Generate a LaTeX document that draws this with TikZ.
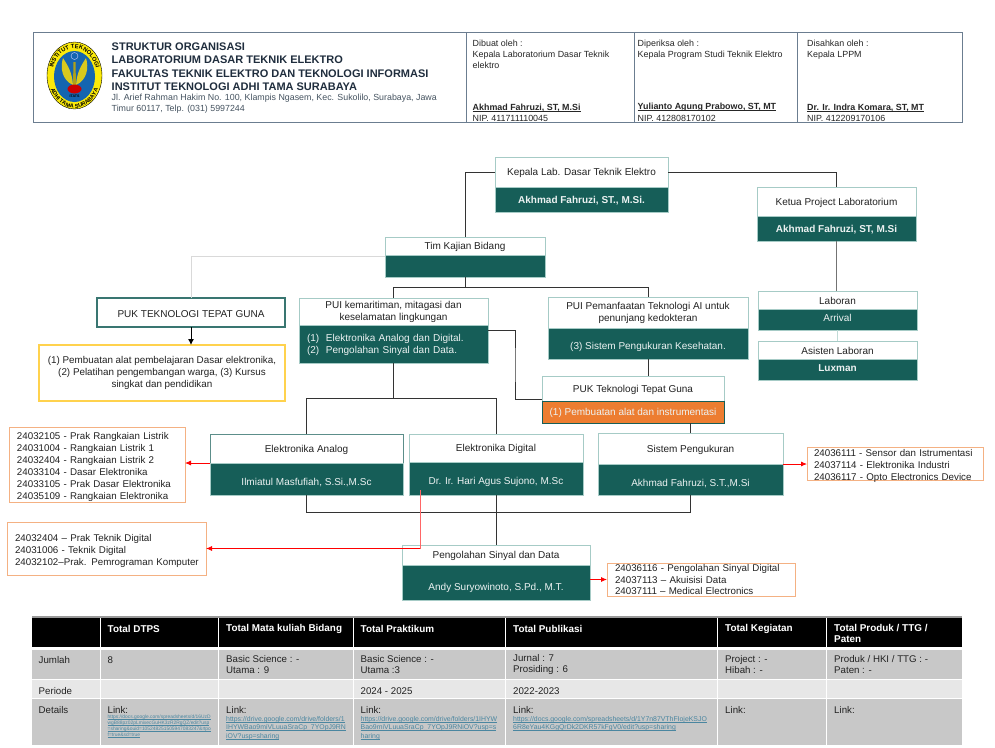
\documentclass[tikz,border=0pt]{standalone}
\usepackage{fontspec}
\setmainfont{Liberation Sans}
\usetikzlibrary{positioning,arrows.meta,decorations.text}
\definecolor{hijau}{HTML}{165E58}
\definecolor{tepi}{HTML}{A6CBC6}
\definecolor{oranye}{HTML}{ED7D31}
\definecolor{salem}{HTML}{F4B183}
\definecolor{emas}{HTML}{FFD24D}
\definecolor{bingkai}{HTML}{6B7D90}
\definecolor{judul}{HTML}{1F2D3D}
\definecolor{alamat}{HTML}{44525F}
\definecolor{tinta}{HTML}{222222}
\definecolor{abu}{HTML}{C8C8C8}
\definecolor{abumuda}{HTML}{E7E7E7}
\definecolor{tautan}{HTML}{4A86A0}
\definecolor{logobiru}{HTML}{1565B0}
\definecolor{logokuning}{HTML}{FBEA0A}
\definecolor{logosayap}{HTML}{D9C91E}
\newcommand{\tautan}[1]{\setbox0\hbox{#1}\rlap{\rule[-0.9pt]{\wd0}{0.35pt}}\box0}
\newcommand{\garisnama}[1]{\setbox0\hbox{#1}\rlap{\rule[-1.3pt]{\wd0}{0.6pt}}\box0}
\begin{document}
\begin{tikzpicture}[x=1pt,y=-1pt,node distance=0pt,
  headbox/.style={draw=tepi,fill=white,text=tinta,align=center,inner sep=0pt,outer sep=0pt,font=\fontsize{10}{12}\selectfont,execute at begin node={\rule{0pt}{10pt}}},
  subbox/.style={draw=tepi,fill=hijau,text=white!92!hijau,align=center,inner sep=0pt,outer sep=0pt,font=\fontsize{10}{12}\selectfont,execute at begin node={\rule{0pt}{10pt}}},
  mkbox/.style={draw=salem,line width=0.9pt,fill=white,text=tinta,align=left,anchor=west,inner sep=0pt,outer sep=0pt,font=\fontsize{9.75}{11.8}\selectfont},
  garis/.style={draw=black!80,line width=0.9pt},
  panah/.style={draw=red,line width=0.8pt,-{Latex[length=6pt,width=5pt]}},
  kepalatxt/.style={text=judul,anchor=west,inner sep=0pt,font=\fontsize{11}{13}\selectfont\bfseries},
  alamattxt/.style={text=alamat,anchor=west,inner sep=0pt,font=\fontsize{8.85}{11}\selectfont},
  ttdtxt/.style={text=black!85,anchor=west,align=left,inner sep=0pt,font=\fontsize{8.9}{10.8}\selectfont},
  teks/.style={text=tinta,anchor=west,align=left,inner sep=0pt,font=\fontsize{9.7}{11.4}\selectfont,execute at begin node={\rule{0pt}{9.5pt}}},
  tebal/.style={text=white,anchor=west,align=left,inner sep=0pt,font=\fontsize{9.9}{11.4}\selectfont\bfseries,execute at begin node={\rule{0pt}{9.5pt}}},
  link/.style={text=tautan,anchor=north west,align=left,inner sep=0pt,font=\fontsize{6.9}{8.4}\selectfont},
  pisah/.style={draw=white,line width=1pt},
  bingkaigaris/.style={draw=bingkai,line width=0.9pt}]
  \useasboundingbox (0,0) rectangle (995,747);

  \draw [bingkaigaris] (33,32) rectangle (962,122);
  \draw [bingkaigaris] (466,32) -- (466,122);
  \draw [bingkaigaris] (634,32) -- (634,122);
  \draw [bingkaigaris] (797,32) -- (797,122);

  \fill [logokuning] (74.5,75.5) ellipse [x radius=27.5,y radius=33.5];
  \draw [black,line width=0.4pt] (74.5,75.5) ellipse [x radius=27.5,y radius=33.5];
  \fill [logobiru] (74.5,76.5) ellipse [x radius=20.5,y radius=25.5];
  \path [decorate,decoration={text along path,text align=center,text={|\fontsize{5.8}{6}\selectfont\bfseries|INSTITUT TEKNOLOGI}}]
    (52,76) arc [start angle=180,end angle=360,x radius=22.5,y radius=27.5];
  \path [decorate,decoration={text along path,text align=center,text={|\fontsize{5.6}{6}\selectfont\bfseries|ADHI TAMA SURABAYA}}]
    (49.4,84.3) arc [start angle=165,end angle=15,x radius=26,y radius=32];
  \fill [logosayap] (73,85) .. controls (62,80) and (60,68) .. (63,58) .. controls (68,66) and (72,72) .. cycle;
  \fill [logosayap] (76,85) .. controls (87,80) and (89,68) .. (86,58) .. controls (81,66) and (77,72) .. cycle;
  \fill [logosayap!80!black] (73.5,62) -- (75.5,62) -- (76,85) -- (73,85) -- cycle;
  \fill [red!80!black] (74.5,89) ellipse [x radius=7,y radius=4.5];
  \draw [white!80!blue,line width=0.4pt] (74.5,56) circle (3.5);
  \node (logoitats) [text=black,inner sep=0pt,font=\fontsize{3.6}{4}\selectfont\bfseries] at (74.5,96) {ITATS};

  \node (judulA) [kepalatxt] at (111.5,47) {STRUKTUR ORGANISASI};
  \node (judulB) [kepalatxt] at (111.5,60) {LABORATORIUM DASAR TEKNIK ELEKTRO};
  \node (judulC) [kepalatxt] at (111.5,73.5) {FAKULTAS TEKNIK ELEKTRO DAN TEKNOLOGI INFORMASI};
  \node (judulD) [kepalatxt] at (111.5,86.5) {INSTITUT TEKNOLOGI ADHI TAMA SURABAYA};
  \node (alamatA) [alamattxt] at (111.5,98) {Jl. Arief Rahman Hakim No. 100, Klampis Ngasem, Kec. Sukolilo, Surabaya, Jawa};
  \node (alamatB) [alamattxt] at (111.5,109.3) {Timur 60117, Telp. (031) 5997244};

  \node (dibuat) [ttdtxt] at (472.5,54.5) {Dibuat oleh :\\Kepala Laboratorium Dasar Teknik\\elektro};
  \node (diperiksa) [ttdtxt] at (637.5,49.5) {Diperiksa oleh :\\Kepala Program Studi Teknik Elektro};
  \node (disahkan) [ttdtxt] at (807,49.5) {Disahkan oleh :\\Kepala LPPM};
  \node (namaA) [ttdtxt] at (472.5,107.5) {\bfseries\garisnama{Akhmad Fahruzi, ST, M.Si}};
  \node (namaB) [ttdtxt] at (637.5,107.5) {\bfseries\garisnama{Yulianto Agung Prabowo, ST, MT}};
  \node (namaC) [ttdtxt] at (807,107.5) {\bfseries\garisnama{Dr. Ir. Indra Komara, ST, MT}};
  \node (nipA) [ttdtxt] at (472.5,118) {NIP. 411711110045};
  \node (nipB) [ttdtxt] at (637.5,118) {NIP. 412808170102};
  \node (nipC) [ttdtxt] at (807,118) {NIP. 412209170106};

  \node (kepala) [headbox,minimum width=173pt,minimum height=30pt] at (581.5,172) {Kepala Lab. Dasar Teknik Elektro};
  \node (kepalaS) [subbox,minimum width=173pt,minimum height=25pt,below=of kepala,font=\fontsize{10}{12}\selectfont\bfseries] {Akhmad Fahruzi, ST., M.Si.};
  \node (ketua) [headbox,minimum width=159pt,minimum height=29pt] at (836.5,201.5) {Ketua Project Laboratorium};
  \node (ketuaS) [subbox,minimum width=159pt,minimum height=25pt,below=of ketua,font=\fontsize{10}{12}\selectfont\bfseries] {Akhmad Fahruzi, ST, M.Si};
  \node (tim) [headbox,minimum width=160pt,minimum height=18pt] at (465,246) {Tim Kajian Bidang};
  \node (timS) [subbox,minimum width=160pt,minimum height=22pt,below=of tim] {};
  \node (laboran) [headbox,minimum width=159pt,minimum height=18pt] at (837.5,300) {Laboran};
  \node (laboranS) [subbox,minimum width=159pt,minimum height=21pt,below=of laboran,text depth=6pt] {Arrival};
  \node (asisten) [headbox,minimum width=159pt,minimum height=18pt] at (837.5,350) {Asisten Laboran};
  \node (asistenS) [subbox,minimum width=159pt,minimum height=21pt,below=of asisten,text depth=6pt,font=\fontsize{10}{12}\selectfont\bfseries] {Luxman};
  \node (pukatas) [headbox,draw=hijau!85!white,line width=1.2pt,minimum width=188pt,minimum height=29pt] at (191,312.5) {PUK TEKNOLOGI TEPAT GUNA};
  \node (pukisi) [headbox,draw=emas,line width=1.2pt,minimum width=246pt,minimum height=56pt,font=\fontsize{9.85}{12}\selectfont,execute at begin node={\rule{0pt}{13pt}}] at (162,373) {(1) Pembuatan alat pembelajaran Dasar elektronika,\\(2) Pelatihan pengembangan warga, (3) Kursus\\singkat dan pendidikan};
  \node (kem) [headbox,minimum width=189pt,minimum height=27pt] at (393.5,311.5) {PUI kemaritiman, mitagasi dan\\keselamatan lingkungan};
  \node (kemS) [subbox,align=left,text width=173pt,inner xsep=8pt,minimum height=38pt,below=of kem] {(1)\ \ Elektronika Analog dan Digital.\\(2)\ \ Pengolahan Sinyal dan Data.};
  \node (pem) [headbox,minimum width=200pt,minimum height=31pt] at (648,312.5) {PUI Pemanfaatan Teknologi AI untuk\\penunjang kedokteran};
  \node (pemS) [subbox,minimum width=200pt,minimum height=31pt,below=of pem,text height=14pt] {(3) Sistem Pengukuran Kesehatan.};
  \node (puk) [headbox,minimum width=182pt,minimum height=25pt] at (633,388.5) {PUK Teknologi Tepat Guna};
  \node (pukS) [subbox,draw=hijau,line width=0.9pt,fill=oranye,minimum width=182pt,minimum height=22pt,below=of puk] {(1) Pembuatan alat dan instrumentasi};
  \node (analog) [headbox,draw=hijau!70!white,minimum width=193pt,minimum height=29pt] at (306.5,448.5) {Elektronika Analog};
  \node (analogS) [subbox,minimum width=193pt,minimum height=32pt,below=of analog,text height=15pt] {Ilmiatul Masfufiah, S.Si.,M.Sc};
  \node (digital) [headbox,minimum width=174pt,minimum height=28pt] at (496,448) {Elektronika Digital};
  \node (digitalS) [subbox,minimum width=174pt,minimum height=33pt,below=of digital,text height=15pt] {Dr. Ir. Hari Agus Sujono, M.Sc};
  \node (sistem) [headbox,minimum width=185pt,minimum height=31pt] at (690.5,448.5) {Sistem Pengukuran};
  \node (sistemS) [subbox,minimum width=185pt,minimum height=31pt,below=of sistem,text height=15pt] {Akhmad Fahruzi, S.T.,M.Si};
  \node (olah) [headbox,minimum width=188pt,minimum height=20pt] at (496,555) {Pengolahan Sinyal dan Data};
  \node (olahS) [subbox,minimum width=188pt,minimum height=35pt,below=of olah,text height=19pt] {Andy Suryowinoto, S.Pd., M.T.};

  \node (mkA) [mkbox,text width=176pt,minimum height=75pt,font=\fontsize{9.75}{12}\selectfont,execute at begin node={\rule{0pt}{12pt}}] at (9,464.5) {\hspace*{8pt}24032105 - Prak Rangkaian Listrik\\\hspace*{8pt}24031004 - Rangkaian Listrik 1\\\hspace*{8pt}24032404 - Rangkaian Listrik 2\\\hspace*{8pt}24033104 - Dasar Elektronika\\\hspace*{8pt}24033105 - Prak Dasar Elektronika\\\hspace*{8pt}24035109 - Rangkaian Elektronika};
  \node (mkB) [mkbox,text width=199pt,minimum height=53pt,execute at begin node={\rule{0pt}{12pt}}] at (7,548.5) {\hspace*{8pt}24032404 -- Prak Teknik Digital\\\hspace*{8pt}24031006 - Teknik Digital\\\hspace*{8pt}24032102--Prak. Pemrograman Komputer};
  \node (mkC) [mkbox,text width=176pt,minimum height=33pt,text depth=20.6pt] at (807,463.5) {\hspace*{7pt}24036111 - Sensor dan Istrumentasi\\\hspace*{7pt}24037114 - Elektronika Industri\\\hspace*{7pt}24036117 - Opto Electronics Device};
  \node (mkD) [mkbox,text width=188pt,minimum height=33pt,text depth=23.6pt] at (607,579.5) {\hspace*{8pt}24036116 - Pengolahan Sinyal Digital\\\hspace*{8pt}24037113 -- Akuisisi Data\\\hspace*{8pt}24037111 -- Medical Electronics};
  \coordinate (belokPuk) at (515,365);
  \coordinate (merah) at (420,490);

  \draw [garis] (kepala.west) -| (tim.north);
  \draw [garis] (kepala.east) -| (ketua.north);
  \draw [garis,draw=black!55] (ketuaS.south) -- (ketuaS.south |- laboran.north);
  \draw [draw=tepi!70!white,line width=0.8pt] (laboranS.south) -- (asisten.north);
  \draw [draw=black!15,line width=1pt] ([yshift=-1.5pt]tim.south west) -| (pukatas.north);
  \draw [garis] (timS.south) -- ++(0,10) -| (kem.north);
  \draw [garis] (timS.south) -- ++(0,10) -| (pem.north);
  \draw [black,line width=0.9pt,-{Latex[length=6pt,width=6pt]}] (pukatas.south) -- (pukisi.north -| pukatas.south);
  \draw [garis] ([yshift=-5pt]kemS.north east) -| (belokPuk) |- ([yshift=-10.5pt]puk.west);
  \draw [garis] (kemS.south) -- ++(0,35) -| (analog.north);
  \draw [garis] (kemS.south) -- ++(0,35) -| (digital.north);
  \draw [garis] (pemS.south) -- (pemS.south |- puk.north);
  \draw [garis] (sistem.north) -- (sistem.north |- pukS.south);
  \draw [garis] (analogS.south) -- ++(0,17) -| (sistemS.south);
  \draw [garis] (digitalS.south) -- (olah.north);
  \draw [panah] (analogS.north west) -- (analogS.north west -| mkA.east);
  \draw [panah] (sistemS.north east) -- (sistemS.north east -| mkC.west);
  \draw [panah] (mkD.west -| olahS.east) -- (mkD.west);
  \draw [draw=red!60!white,line width=1pt] (merah) -- (merah |- mkB.east);
  \draw [panah] (merah |- mkB.east) -- (mkB.east);

  \fill [black!40] (32,616) rectangle (962,618);
  \fill [black] (32,618) rectangle (962,647);
  \fill [abu] (32,650) rectangle (962,679);
  \fill [abumuda] (32,680) rectangle (962,698);
  \fill [abu] (32,699) rectangle (962,745);
  \draw [pisah] (100.5,618) -- (100.5,745);
  \draw [pisah] (218.5,618) -- (218.5,745);
  \draw [pisah] (353,618) -- (353,745);
  \draw [pisah] (505.5,618) -- (505.5,745);
  \draw [pisah] (717.5,618) -- (717.5,745);
  \draw [pisah] (826.5,618) -- (826.5,745);

  \node (hDtps) [tebal] at (107.5,628) {Total DTPS};
  \node (hMk) [tebal] at (226,628) {Total Mata kuliah Bidang};
  \node (hPrak) [tebal] at (360.5,628) {Total Praktikum};
  \node (hPub) [tebal] at (513,628) {Total Publikasi};
  \node (hKeg) [tebal] at (725,628) {Total Kegiatan};
  \node (hProd) [tebal] at (834,633.5) {Total Produk / TTG /\\Paten};
  \node (rJumlah) [teks] at (38.5,658.5) {Jumlah};
  \node (rPeriode) [teks] at (38.5,690) {Periode};
  \node (rDetails) [teks] at (38.5,708.5) {Details};
  \node (jDtps) [teks] at (107.5,658.5) {8};
  \node (jMk) [teks] at (226,664.5) {Basic Science : -\\Utama : 9};
  \node (jPrak) [teks] at (360.5,664.5) {Basic Science : -\\Utama :3};
  \node (jPub) [teks] at (513,664.5) {Jurnal : 7\\Prosiding : 6};
  \node (jKeg) [teks] at (725,664.5) {Project : -\\Hibah : -};
  \node (jProd) [teks] at (834,664.5) {Produk / HKI / TTG : -\\Paten : -};
  \node (pPrak) [teks] at (360.5,690) {2024 - 2025};
  \node (pPub) [teks] at (513,690) {2022-2023};
  \node (dDtps) [teks] at (107.5,708.5) {Link:};
  \node (dMk) [teks] at (226,708.5) {Link:};
  \node (dPrak) [teks] at (360.5,708.5) {Link:};
  \node (dPub) [teks] at (513,708.5) {Link:};
  \node (dKeg) [teks] at (725,708.5) {Link:};
  \node (dProd) [teks] at (834,708.5) {Link:};
  \node (lDtps) [link,font=\fontsize{4.9}{6}\selectfont] at (107.5,715) {\tautan{https://docs.google.com/spreadsheets/d/16UzD}\\\tautan{wgB88pz02pLmixecGuHK3zR2RgQZ/edit?usp}\\\tautan{=sharing\&ouid=105248251505947083247\&rtpo}\\\tautan{f=true\&sd=true}};
  \node (lMk) [link] at (226,716) {\tautan{https://drive.google.com/drive/folders/1}\\\tautan{IHYWBao9miVLuuaSraCp\_7YOpJ9RN}\\\tautan{iOV?usp=sharing}};
  \node (lPrak) [link] at (360.5,716) {\tautan{https://drive.google.com/drive/folders/1IHYW}\\\tautan{Bao9miVLuuaSraCp\_7YOpJ9RNiOV?usp=s}\\\tautan{haring}};
  \node (lPub) [link] at (513,716) {\tautan{https://docs.google.com/spreadsheets/d/1Y7n87VThFIojeKSJO}\\\tautan{6R8eYau4KGgQrDk2DKR57kFgV0/edit?usp=sharing}};
\end{tikzpicture}
\end{document}
